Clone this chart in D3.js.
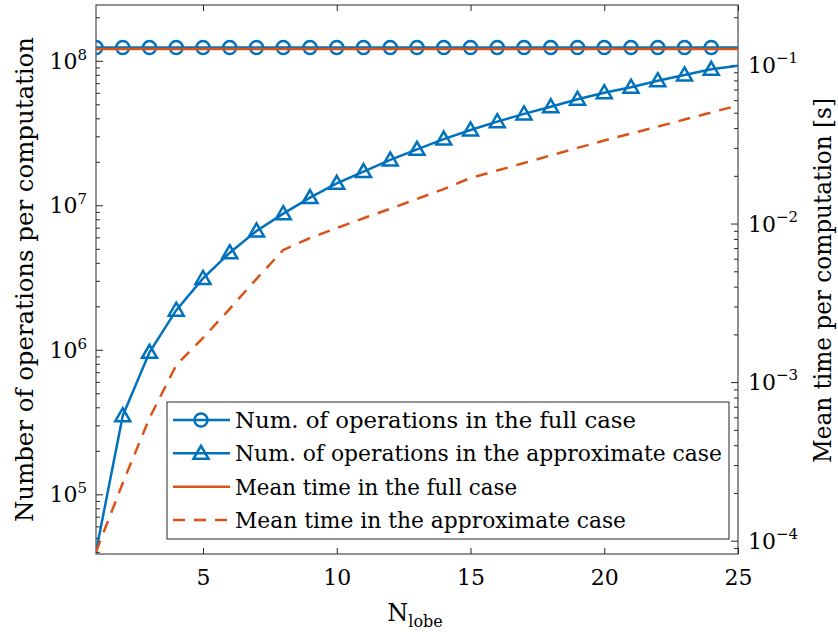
<!DOCTYPE html>
<html>
<head>
<meta charset="utf-8">
<script src="https://cdn.jsdelivr.net/npm/d3@7"></script>
<style>
  body { margin: 0; background: #fff; }
  svg text { font-family: "DejaVu Serif", serif; fill: #000; }
</style>
</head>
<body>
<div id="chart"></div>
<script>
// N_lobe values
const nLobe = [1, 2, 3, 4, 5, 6, 7, 8, 9, 10, 11, 12, 13, 14, 15, 16, 17, 18, 19, 20, 21, 22, 23, 24, 25];

// number of operations per computation (left axis)
const opsFull = [1.235e8, 1.235e8, 1.235e8, 1.235e8, 1.235e8, 1.235e8, 1.235e8, 1.235e8, 1.235e8, 1.235e8,
  1.235e8, 1.235e8, 1.235e8, 1.235e8, 1.235e8, 1.235e8, 1.235e8, 1.235e8, 1.235e8, 1.235e8,
  1.235e8, 1.235e8, 1.235e8, 1.235e8, 1.235e8];
const opsApprox = [4.0e4, 3.5e5, 9.6e5, 1.88e6, 3.12e6, 4.7e6, 6.64e6, 8.75e6, 1.13e7, 1.42e7,
  1.71e7, 2.06e7, 2.44e7, 2.87e7, 3.32e7, 3.79e7, 4.29e7, 4.81e7, 5.42e7, 6.01e7,
  6.56e7, 7.28e7, 7.98e7, 8.73e7, 9.25e7];

// mean time per computation [s] (right axis)
const timeFull = [0.126, 0.126, 0.126, 0.126, 0.126, 0.126, 0.126, 0.126, 0.126, 0.126,
  0.126, 0.126, 0.126, 0.126, 0.126, 0.126, 0.126, 0.126, 0.126, 0.126,
  0.126, 0.126, 0.126, 0.126, 0.126];
const timeApprox = [8.5e-5, 2.31e-4, 5.94e-4, 1.28e-3, 1.9e-3, 2.9e-3, 4.48e-3, 6.82e-3, 8.11e-3, 9.37e-3,
  1.08e-2, 1.24e-2, 1.43e-2, 1.65e-2, 1.94e-2, 2.16e-2, 2.41e-2, 2.69e-2, 3.0e-2, 3.34e-2,
  3.7e-2, 4.09e-2, 4.53e-2, 5.02e-2, 5.56e-2];

const xTicks = [5, 10, 15, 20, 25];
const leftTicks = [1e5, 1e6, 1e7, 1e8];
const leftTickExp = ["5", "6", "7", "8"];
const rightTicks = [1e-4, 1e-3, 1e-2, 1e-1];
const rightTickExp = ["\u22124", "\u22123", "\u22122", "\u22121"];

const legendLabels = [
  "Num. of operations in the full case",
  "Num. of operations in the approximate case",
  "Mean time in the full case",
  "Mean time in the approximate case"
];

const width = 838, height = 634;
const blue = "#0072BD", orange = "#D95319", axisCol = "#262626";
const plot = { left: 96, right: 738, top: 5, bottom: 554 };

const svg = d3.select("#chart").append("svg")
  .attr("width", width).attr("height", height);

const x = d3.scaleLinear().domain([1, 25]).range([plot.left, plot.right]);
const yL = d3.scaleLog().domain([Math.pow(10, 4.587), Math.pow(10, 8.386)]).range([plot.bottom, plot.top]);
const yR = d3.scaleLog().domain([Math.pow(10, -4.084), Math.pow(10, -0.6216)]).range([plot.bottom, plot.top]);

svg.append("clipPath").attr("id", "clip")
  .append("rect")
  .attr("x", plot.left).attr("y", plot.top)
  .attr("width", plot.right - plot.left).attr("height", plot.bottom - plot.top);

// ticks (inside, MATLAB style)
function styleAxis(g) {
  g.select(".domain").remove();
  g.selectAll(".tick line").attr("stroke", axisCol).attr("stroke-width", 1);
}

svg.append("g")
  .attr("transform", "translate(0," + plot.bottom + ")")
  .call(d3.axisBottom(x).tickValues(xTicks).tickSize(-6).tickPadding(15))
  .call(styleAxis)
  .call(g => g.selectAll("text").attr("font-size", 22).attr("fill", "#000"));

svg.append("g")
  .attr("transform", "translate(0," + plot.top + ")")
  .call(d3.axisTop(x).tickValues(xTicks).tickSize(-6).tickFormat(""))
  .call(styleAxis);

const leftMinor = yL.ticks().filter(v => leftTicks.indexOf(v) < 0);
const rightMinor = yR.ticks().filter(v => rightTicks.map(t => +t.toPrecision(3)).indexOf(+v.toPrecision(3)) < 0);

svg.append("g")
  .attr("transform", "translate(" + plot.left + ",0)")
  .call(d3.axisLeft(yL).tickValues(leftTicks).tickSize(-7).tickFormat(""))
  .call(styleAxis);
svg.append("g")
  .attr("transform", "translate(" + plot.left + ",0)")
  .call(d3.axisLeft(yL).tickValues(leftMinor).tickSize(-4).tickFormat(""))
  .call(styleAxis);

svg.append("g")
  .attr("transform", "translate(" + plot.right + ",0)")
  .call(d3.axisRight(yR).tickValues(rightTicks).tickSize(-7).tickFormat(""))
  .call(styleAxis);
svg.append("g")
  .attr("transform", "translate(" + plot.right + ",0)")
  .call(d3.axisRight(yR).tickValues(rightMinor).tickSize(-4).tickFormat(""))
  .call(styleAxis);

// tick labels with superscripts
leftTicks.forEach((v, i) => {
  const t = svg.append("text")
    .attr("x", 87).attr("y", yL(v) + 8)
    .attr("text-anchor", "end").attr("font-size", 22);
  t.append("tspan").text("10");
  t.append("tspan").attr("dy", -9).attr("font-size", 15).text(leftTickExp[i]);
});
rightTicks.forEach((v, i) => {
  const t = svg.append("text")
    .attr("x", 748).attr("y", yR(v) + 8)
    .attr("font-size", 22);
  t.append("tspan").text("10");
  t.append("tspan").attr("dy", -10).attr("font-size", 15).text(rightTickExp[i]);
});

// box
svg.append("rect")
  .attr("x", plot.left).attr("y", plot.top)
  .attr("width", plot.right - plot.left).attr("height", plot.bottom - plot.top)
  .attr("fill", "none").attr("stroke", axisCol).attr("stroke-width", 1);

// series
const lineL = vals => d3.line().x((d, i) => x(nLobe[i])).y(d => yL(d))(vals);
const lineR = vals => d3.line().x((d, i) => x(nLobe[i])).y(d => yR(d))(vals);

const marks = svg.append("g").attr("clip-path", "url(#clip)");
const triPath = "M0,-7.5L7.5,5.5L-7.5,5.5Z";

marks.append("path").attr("d", lineL(opsFull))
  .attr("fill", "none").attr("stroke", blue).attr("stroke-width", 2.5);
marks.selectAll("circle.full")
  .data(opsFull.slice(0, 24))
  .join("circle").attr("class", "full")
  .attr("cx", (d, i) => x(nLobe[i])).attr("cy", d => yL(d)).attr("r", 6.5)
  .attr("fill", "none").attr("stroke", blue).attr("stroke-width", 2.5);

marks.append("path").attr("d", lineL(opsApprox))
  .attr("fill", "none").attr("stroke", blue).attr("stroke-width", 2.5);
marks.selectAll("path.tri")
  .data(opsApprox.slice(1, 24))
  .join("path").attr("class", "tri")
  .attr("d", triPath)
  .attr("transform", (d, i) => "translate(" + x(nLobe[i + 1]) + "," + yL(d) + ")")
  .attr("fill", "none").attr("stroke", blue).attr("stroke-width", 2.5);

marks.append("path").attr("d", lineR(timeFull))
  .attr("fill", "none").attr("stroke", orange).attr("stroke-width", 2.5);
marks.append("path").attr("d", lineR(timeApprox))
  .attr("fill", "none").attr("stroke", orange).attr("stroke-width", 2.5)
  .attr("stroke-dasharray", "12,9");

// axis labels
svg.append("text")
  .attr("transform", "translate(33,279.5) rotate(-90)")
  .attr("text-anchor", "middle").attr("font-size", 25)
  .attr("textLength", 485).attr("lengthAdjust", "spacingAndGlyphs")
  .text("Number of operations per computation");

svg.append("text")
  .attr("transform", "translate(831,280.5) rotate(-90)")
  .attr("text-anchor", "middle").attr("font-size", 25)
  .attr("textLength", 365).attr("lengthAdjust", "spacingAndGlyphs")
  .text("Mean time per computation [s]");

const xl = svg.append("text")
  .attr("x", 415).attr("y", 621)
  .attr("text-anchor", "middle").attr("font-size", 24);
xl.append("tspan").text("N");
xl.append("tspan").attr("dy", 6).attr("font-size", 16).text("lobe");

// legend
const legend = svg.append("g");
legend.append("rect")
  .attr("x", 167).attr("y", 402).attr("width", 562).attr("height", 137)
  .attr("fill", "#fff").attr("stroke", axisCol).attr("stroke-width", 1);

const legendRowY = [420, 453.3, 486.7, 520];
const legendTextLen = [401, 487, 282, 391];
const legendCol = [blue, blue, orange, orange];

legendLabels.forEach((lab, i) => {
  const yy = legendRowY[i];
  legend.append("line")
    .attr("x1", 173).attr("x2", 230).attr("y1", yy).attr("y2", yy)
    .attr("stroke", legendCol[i]).attr("stroke-width", 2.5)
    .attr("stroke-dasharray", i === 3 ? "12,9" : null);
  if (i === 0) {
    legend.append("circle").attr("cx", 201).attr("cy", yy).attr("r", 6.5)
      .attr("fill", "none").attr("stroke", blue).attr("stroke-width", 2.5);
  }
  if (i === 1) {
    legend.append("path").attr("d", triPath)
      .attr("transform", "translate(201," + yy + ")")
      .attr("fill", "none").attr("stroke", blue).attr("stroke-width", 2.5);
  }
  legend.append("text")
    .attr("x", 235).attr("y", yy + 8)
    .attr("font-size", 22)
    .attr("textLength", legendTextLen[i]).attr("lengthAdjust", "spacingAndGlyphs")
    .text(lab);
});
</script>
</body>
</html>
